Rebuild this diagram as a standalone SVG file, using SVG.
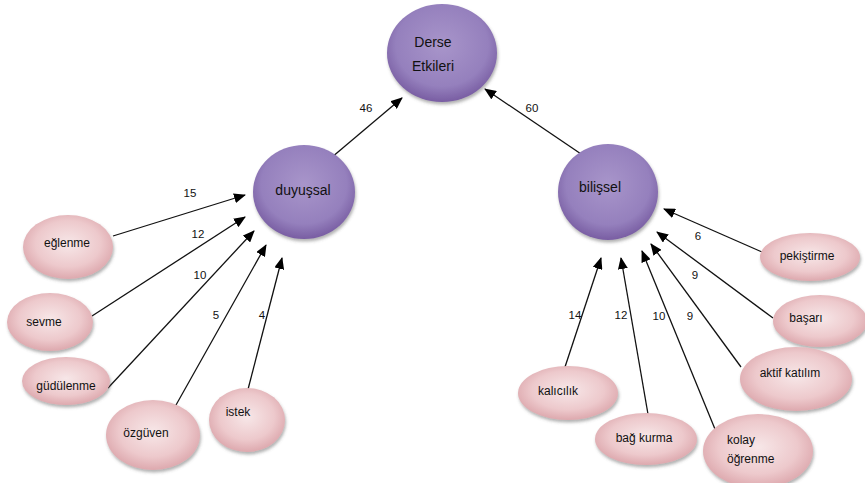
<svg xmlns="http://www.w3.org/2000/svg" width="865" height="483" viewBox="0 0 865 483">
<defs>
<radialGradient id="gp" cx="50%" cy="42%" r="60%">
<stop offset="0" stop-color="#a895ca"/>
<stop offset="0.7" stop-color="#9580bd"/>
<stop offset="1" stop-color="#75599f"/>
</radialGradient>
<radialGradient id="gk" cx="50%" cy="45%" r="60%">
<stop offset="0" stop-color="#f7e7e8"/>
<stop offset="0.6" stop-color="#edc9cc"/>
<stop offset="1" stop-color="#d9a0a6"/>
</radialGradient>
<filter id="sh" x="-20%" y="-20%" width="140%" height="150%">
<feDropShadow dx="1" dy="2.5" stdDeviation="1.5" flood-color="#555" flood-opacity="0.45"/>
</filter>
<marker id="ah" markerUnits="userSpaceOnUse" markerWidth="12" markerHeight="10" refX="11" refY="5" orient="auto">
<path d="M0,0 L12,5 L0,10 Z" fill="#000"/>
</marker>
</defs>
<style>
.p{fill:url(#gp);filter:url(#sh)}
.k{fill:url(#gk);filter:url(#sh)}
.t{font-family:"Liberation Sans",Arial,sans-serif;font-size:12px;fill:#111}
.tb{font-family:"Liberation Sans",Arial,sans-serif;font-size:14px;fill:#111}
.n{font-family:"Liberation Sans",Arial,sans-serif;font-size:11.5px;fill:#111;text-anchor:middle}
.c{stroke:#111;stroke-width:1.3;fill:none;marker-end:url(#ah)}
</style>
<g id="connectors">
<line class="c" x1="325" y1="163" x2="402" y2="98"/>
<line class="c" x1="587" y1="158" x2="485" y2="89"/>
<line class="c" x1="113" y1="236" x2="245" y2="195"/>
<line class="c" x1="92" y1="316" x2="245" y2="217"/>
<line class="c" x1="108" y1="388" x2="254" y2="231"/>
<line class="c" x1="167" y1="421" x2="266" y2="245"/>
<line class="c" x1="245" y1="401" x2="282" y2="258"/>
<line class="c" x1="762" y1="252" x2="664" y2="209"/>
<line class="c" x1="773" y1="318" x2="657" y2="232"/>
<line class="c" x1="741" y1="367" x2="651" y2="244"/>
<line class="c" x1="717" y1="434" x2="642" y2="251"/>
<line class="c" x1="649" y1="420" x2="621" y2="258"/>
<line class="c" x1="563" y1="373" x2="601" y2="258"/>
<text class="n" x="366" y="112">46</text>
<text class="n" x="532" y="112">60</text>
<text class="n" x="190" y="197">15</text>
<text class="n" x="198" y="238" fill="#5a1a1a">12</text>
<text class="n" x="200" y="279">10</text>
<text class="n" x="216" y="319">5</text>
<text class="n" x="262" y="319">4</text>
<text class="n" x="698" y="240">6</text>
<text class="n" x="695" y="279">9</text>
<text class="n" x="690" y="320">9</text>
<text class="n" x="659" y="320">10</text>
<text class="n" x="621" y="319">12</text>
<text class="n" x="575" y="319">14</text>
</g>
<g id="derse"><ellipse class="p" cx="442" cy="53" rx="55" ry="49"/><text class="tb" x="433" y="47" text-anchor="middle">Derse</text><text class="tb" x="433" y="71" text-anchor="middle">Etkileri</text></g>
<g id="duyussal"><ellipse class="p" cx="304" cy="192" rx="51" ry="47"/><text class="tb" x="303" y="195" text-anchor="middle">duyuşsal</text></g>
<g id="bilissel"><ellipse class="p" cx="608" cy="192" rx="50" ry="48"/><text class="tb" x="600" y="192" text-anchor="middle">bilişsel</text></g>
<g id="eglenme"><ellipse class="k" cx="68" cy="247" rx="45" ry="32"/><text class="t" x="67" y="247" text-anchor="middle">eğlenme</text></g>
<g id="sevme"><ellipse class="k" cx="50" cy="322" rx="43" ry="29"/><text class="t" x="44" y="326" text-anchor="middle">sevme</text></g>
<g id="gudulenme"><ellipse class="k" cx="66" cy="381" rx="44" ry="24"/><text class="t" x="66" y="390" text-anchor="middle">güdülenme</text></g>
<g id="ozguven"><ellipse class="k" cx="153" cy="435" rx="47" ry="35"/><text class="t" x="146" y="437" text-anchor="middle">özgüven</text></g>
<g id="istek"><ellipse class="k" cx="247" cy="420" rx="38" ry="32"/><text class="t" x="238" y="416" text-anchor="middle">istek</text></g>
<g id="pekistirme"><ellipse class="k" cx="810" cy="257" rx="50" ry="24"/><text class="t" x="807" y="260" text-anchor="middle">pekiştirme</text></g>
<g id="basari"><ellipse class="k" cx="820" cy="321" rx="47" ry="26"/><text class="t" x="806" y="322" text-anchor="middle">başarı</text></g>
<g id="aktif"><ellipse class="k" cx="796" cy="379" rx="56" ry="32"/><text class="t" x="790" y="377" text-anchor="middle">aktif katılım</text></g>
<g id="kalicilik"><ellipse class="k" cx="568" cy="393" rx="50" ry="27"/><text class="t" x="558" y="395" text-anchor="middle">kalıcılık</text></g>
<g id="bagkurma"><ellipse class="k" cx="646" cy="439" rx="51" ry="26"/><text class="t" x="644" y="442" text-anchor="middle">bağ kurma</text></g>
<g id="kolay"><ellipse class="k" cx="758" cy="451" rx="55" ry="37"/><text class="t" x="727" y="444">kolay</text><text class="t" x="727" y="463">öğrenme</text></g>
</svg>
